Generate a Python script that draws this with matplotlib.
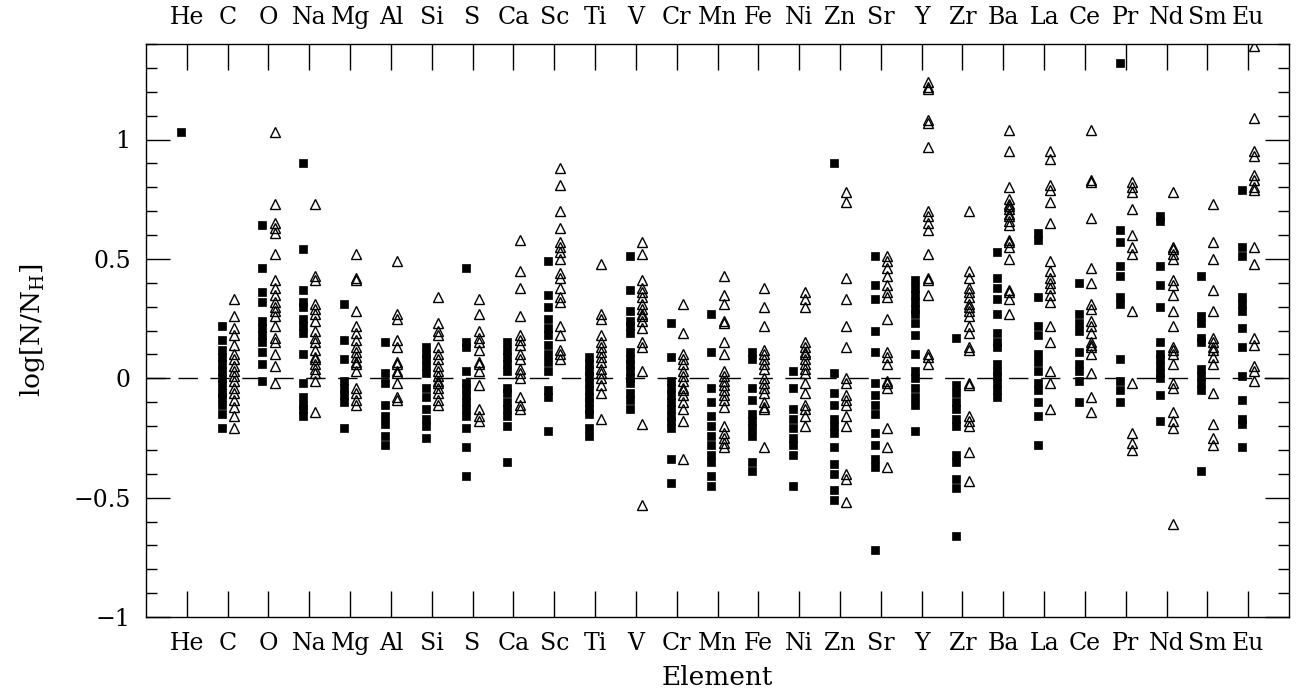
import numpy as np
import matplotlib
matplotlib.use("Agg")
import matplotlib.pyplot as plt
from matplotlib.ticker import MultipleLocator

# element order along the x axis
elements = ["He", "C", "O", "Na", "Mg", "Al", "Si", "S", "Ca", "Sc", "Ti", "V",
            "Cr", "Mn", "Fe", "Ni", "Zn", "Sr", "Y", "Zr", "Ba", "La", "Ce",
            "Pr", "Nd", "Sm", "Eu"]

# filled squares: first sample
filled = [
    [1.03],
    [0.22, 0.16, 0.12, 0.09, 0.06, 0.03, 0.00, -0.03, -0.06, -0.08, -0.11, -0.15, -0.21],
    [0.64, 0.46, 0.36, 0.32, 0.24, 0.21, 0.18, 0.15, 0.11, 0.06, -0.01],
    [0.90, 0.54, 0.37, 0.32, 0.30, 0.25, 0.22, 0.19, 0.10, -0.02, -0.08, -0.11, -0.13, -0.16],
    [0.31, 0.16, 0.08, -0.01, -0.04, -0.07, -0.10, -0.21],
    [0.15, 0.02, -0.02, -0.11, -0.16, -0.19, -0.24, -0.28],
    [0.13, 0.10, 0.08, 0.05, 0.02, -0.04, -0.08, -0.13, -0.17, -0.20, -0.25],
    [0.46, 0.15, 0.13, 0.03, -0.02, -0.04, -0.07, -0.10, -0.13, -0.16, -0.21, -0.29, -0.41],
    [0.15, 0.12, 0.09, 0.06, 0.03, -0.04, -0.06, -0.10, -0.13, -0.16, -0.20, -0.35],
    [0.49, 0.35, 0.30, 0.25, 0.21, 0.18, 0.14, 0.10, 0.07, 0.03, -0.05, -0.08, -0.22],
    [0.09, 0.06, 0.03, 0.01, -0.02, -0.05, -0.08, -0.10, -0.13, -0.15, -0.21, -0.24],
    [0.51, 0.37, 0.28, 0.24, 0.22, 0.19, 0.11, 0.08, 0.06, 0.03, 0.00, -0.02, -0.06, -0.09, -0.13],
    [0.23, 0.09, -0.01, -0.04, -0.07, -0.10, -0.13, -0.16, -0.18, -0.21, -0.34, -0.44],
    [0.27, 0.11, -0.04, -0.10, -0.16, -0.20, -0.24, -0.28, -0.32, -0.35, -0.41, -0.45],
    [0.11, 0.08, -0.04, -0.09, -0.15, -0.18, -0.21, -0.24, -0.35, -0.39],
    [0.03, -0.04, -0.13, -0.17, -0.21, -0.25, -0.28, -0.32, -0.45],
    [0.90, 0.02, -0.06, -0.11, -0.17, -0.20, -0.23, -0.29, -0.36, -0.40, -0.47, -0.51],
    [0.51, 0.39, 0.33, 0.20, 0.11, -0.02, -0.07, -0.11, -0.15, -0.23, -0.28, -0.34, -0.37, -0.72],
    [0.41, 0.38, 0.35, 0.32, 0.29, 0.27, 0.23, 0.18, 0.10, 0.03, 0.00, -0.04, -0.08, -0.11, -0.22],
    [0.17, -0.03, -0.06, -0.10, -0.13, -0.17, -0.20, -0.32, -0.35, -0.42, -0.46, -0.66],
    [0.53, 0.42, 0.38, 0.33, 0.27, 0.19, 0.15, 0.13, 0.06, 0.03, 0.01, -0.02, -0.05, -0.08],
    [0.61, 0.58, 0.34, 0.22, 0.18, 0.10, 0.07, 0.03, -0.02, -0.05, -0.10, -0.16, -0.28],
    [0.40, 0.27, 0.23, 0.20, 0.11, 0.06, 0.03, -0.01, -0.10],
    [1.32, 0.62, 0.57, 0.47, 0.43, 0.34, 0.31, 0.08, -0.01, -0.05, -0.10],
    [0.68, 0.66, 0.47, 0.39, 0.30, 0.15, 0.10, 0.08, 0.05, 0.02, 0.00, -0.07, -0.18],
    [0.43, 0.26, 0.23, 0.17, 0.15, 0.04, 0.01, -0.02, -0.05, -0.39],
    [0.79, 0.55, 0.51, 0.34, 0.31, 0.28, 0.21, 0.13, 0.01, -0.09, -0.17, -0.19, -0.29],
]

# open triangles: second sample
opened = [
    [],
    [0.33, 0.26, 0.21, 0.18, 0.14, 0.10, 0.08, 0.05, 0.03, 0.01, -0.01, -0.04, -0.06, -0.09, -0.12, -0.16, -0.21],
    [1.03, 0.73, 0.65, 0.63, 0.61, 0.52, 0.41, 0.38, 0.35, 0.32, 0.30, 0.28, 0.26, 0.22, 0.17, 0.15, 0.10, 0.05, -0.02],
    [0.73, 0.43, 0.41, 0.31, 0.29, 0.27, 0.24, 0.20, 0.17, 0.15, 0.12, 0.09, 0.08, 0.06, 0.04, 0.02, -0.01, -0.14],
    [0.52, 0.42, 0.41, 0.28, 0.22, 0.19, 0.16, 0.13, 0.11, 0.09, 0.07, 0.06, 0.03, -0.04, -0.06, -0.09, -0.11],
    [0.49, 0.27, 0.25, 0.16, 0.13, 0.07, 0.06, 0.03, 0.02, -0.02, -0.08, -0.09],
    [0.34, 0.23, 0.20, 0.18, 0.13, 0.10, 0.08, 0.05, 0.03, 0.01, -0.01, -0.02, -0.04, -0.06, -0.09, -0.11],
    [0.33, 0.27, 0.20, 0.17, 0.15, 0.12, 0.07, 0.06, 0.03, -0.03, -0.13, -0.16, -0.18],
    [0.58, 0.45, 0.38, 0.26, 0.18, 0.16, 0.14, 0.10, 0.08, 0.04, 0.02, 0.00, -0.08, -0.11, -0.13],
    [0.88, 0.81, 0.70, 0.63, 0.57, 0.55, 0.53, 0.50, 0.44, 0.42, 0.38, 0.34, 0.32, 0.22, 0.18, 0.12, 0.10, 0.08],
    [0.48, 0.27, 0.25, 0.18, 0.15, 0.13, 0.11, 0.09, 0.07, 0.04, 0.02, 0.00, -0.03, -0.06, -0.17],
    [0.57, 0.52, 0.41, 0.38, 0.36, 0.34, 0.31, 0.29, 0.27, 0.26, 0.24, 0.21, 0.15, 0.13, 0.03, -0.19, -0.53],
    [0.31, 0.19, 0.10, 0.08, 0.06, 0.03, 0.01, -0.01, -0.04, -0.05, -0.07, -0.10, -0.13, -0.18, -0.34],
    [0.43, 0.35, 0.31, 0.24, 0.23, 0.15, 0.10, 0.03, 0.01, -0.01, -0.03, -0.05, -0.07, -0.09, -0.12, -0.20, -0.23, -0.25, -0.27, -0.29],
    [0.38, 0.30, 0.22, 0.12, 0.10, 0.08, 0.06, 0.04, 0.00, -0.02, -0.04, -0.06, -0.10, -0.12, -0.13, -0.29],
    [0.36, 0.33, 0.30, 0.15, 0.13, 0.11, 0.10, 0.08, 0.06, 0.04, 0.02, -0.02, -0.06, -0.11, -0.13, -0.16, -0.20],
    [0.78, 0.74, 0.42, 0.33, 0.22, 0.13, 0.00, -0.02, -0.07, -0.09, -0.11, -0.16, -0.20, -0.40, -0.42, -0.52],
    [0.51, 0.49, 0.46, 0.43, 0.39, 0.36, 0.34, 0.25, 0.11, 0.09, 0.06, -0.01, -0.02, -0.04, -0.21, -0.29, -0.37],
    [1.24, 1.22, 1.21, 1.08, 1.07, 0.97, 0.70, 0.68, 0.65, 0.62, 0.52, 0.42, 0.41, 0.35, 0.10, 0.09, 0.06],
    [0.70, 0.45, 0.42, 0.38, 0.36, 0.34, 0.31, 0.30, 0.28, 0.26, 0.22, 0.19, 0.13, 0.12, -0.02, -0.03, -0.16, -0.18, -0.20, -0.31, -0.43],
    [1.04, 0.95, 0.80, 0.75, 0.73, 0.72, 0.71, 0.69, 0.68, 0.66, 0.64, 0.58, 0.57, 0.55, 0.50, 0.37, 0.36, 0.33, 0.27],
    [0.95, 0.92, 0.81, 0.79, 0.74, 0.65, 0.49, 0.45, 0.42, 0.40, 0.38, 0.35, 0.32, 0.22, 0.15, 0.03, -0.02, -0.13],
    [1.04, 0.83, 0.82, 0.67, 0.46, 0.40, 0.31, 0.29, 0.24, 0.22, 0.19, 0.15, 0.14, 0.13, 0.10, 0.02, -0.08, -0.14],
    [0.82, 0.80, 0.78, 0.71, 0.60, 0.55, 0.52, 0.28, -0.02, -0.23, -0.27, -0.30],
    [0.78, 0.55, 0.54, 0.52, 0.50, 0.41, 0.39, 0.35, 0.28, 0.22, 0.13, 0.12, 0.10, 0.06, -0.02, -0.04, -0.14, -0.18, -0.21, -0.61],
    [0.73, 0.57, 0.50, 0.37, 0.28, 0.17, 0.15, 0.13, 0.12, 0.09, 0.06, -0.06, -0.19, -0.25, -0.28],
    [1.39, 1.09, 0.95, 0.93, 0.85, 0.83, 0.80, 0.79, 0.55, 0.48, 0.17, 0.14, 0.05, 0.03, -0.01],
]

plt.rcParams["font.family"] = ["DejaVu Serif"]
plt.rcParams["mathtext.fontset"] = "dejavuserif"

W, H = 1304, 699
fig = plt.figure(figsize=(W / 100, H / 100), dpi=100)
ax = fig.add_axes([146 / W, (H - 617) / H, (1289 - 146) / W, (617 - 44) / H])

pos = np.arange(1, len(elements) + 1)
shift = 0.15

for x, vals in zip(pos, filled):
    ax.plot(np.full(len(vals), x - shift), vals, ls="none", marker="s",
            ms=5.2, mfc="black", mec="black", mew=0.5)
for x, vals in zip(pos, opened):
    if vals:
        ax.plot(np.full(len(vals), x + shift), vals, ls="none", marker="^",
                ms=6.5, mfc="none", mec="black", mew=1.0)

ax.axhline(0, color="black", lw=1.0, dashes=(14, 9))

ax.set_xlim(0, len(elements) + 1)
ax.set_ylim(-1, 1.4)
ax.set_xticks(pos)
ax.set_xticklabels(elements)
ax.yaxis.set_major_locator(MultipleLocator(0.5))
ax.yaxis.set_minor_locator(MultipleLocator(0.1))
ax.set_yticks([-1, -0.5, 0, 0.5, 1])
ax.set_yticklabels(["\u22121", "\u22120.5", "0", "0.5", "1"])

ax.tick_params(axis="x", which="major", direction="in", top=True, bottom=True,
               labeltop=True, length=19, width=1.0, pad=11, labelsize=17)
ax.tick_params(axis="y", which="major", direction="in", left=True, right=True,
               length=17, width=1.0, pad=11, labelsize=17)
ax.tick_params(axis="y", which="minor", direction="in", left=True, right=True,
               length=8, width=1.0)
ax.tick_params(axis="x", which="minor", bottom=False, top=False)

for s in ax.spines.values():
    s.set_linewidth(1.0)

ax.set_xlabel("Element", fontsize=19, labelpad=7)
ax.set_ylabel(r"log[N/N$_{\rm H}$]", fontsize=19, labelpad=19)

fig.savefig("out.png", dpi=100)
